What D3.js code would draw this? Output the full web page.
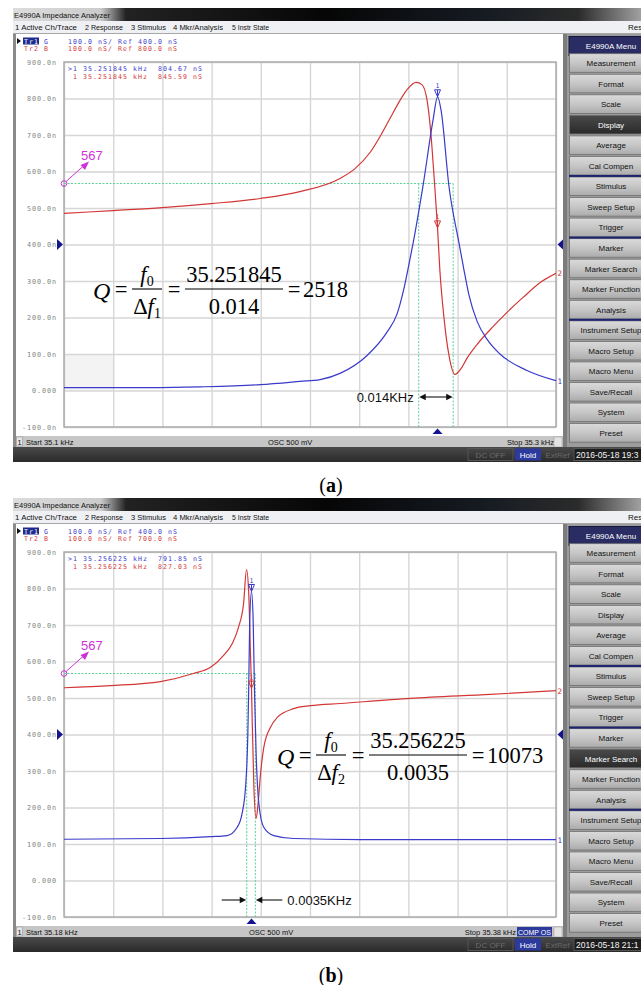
<!DOCTYPE html>
<html><head><meta charset="utf-8">
<script src="https://cdn.jsdelivr.net/npm/d3@7"></script>
<style>
html,body{margin:0;padding:0;background:#fff;}
svg{display:block;}
</style></head><body>
<svg id="fig" width="641" height="985"></svg>
<script>
// ---------- shared screen content ----------
const menuItems = ["Measurement","Format","Scale","Display","Average","Cal Compen","Stimulus","Sweep Setup","Trigger","Marker","Marker Search","Marker Function","Analysis","Instrument Setup","Macro Setup","Macro Menu","Save/Recall","System","Preset"];
const menuBreaks = [5, 8, 12];
const topMenu = ["1 Active Ch/Trace","2 Response","3 Stimulus","4 Mkr/Analysis","5 Instr State"];
const topMenuX = [15, 85, 131, 173, 232];
const topMenuW = [62, 38, 35, 50, 37];
const yTicks = [900,800,700,600,500,400,300,200,100,0,-100];
const yTickLabels = ["900.0n","800.0n","700.0n","600.0n","500.0n","400.0n","300.0n","200.0n","100.0n","0.000","-100.0n"];

// ---------- panel (a) : sweep 35.1 - 35.3 kHz ----------
const aSpan = [35.1, 35.3];
const aRef = [400, 800];                 // Tr1 G ref, Tr2 B ref (nS)
const aFreqG = [35.1, 35.135, 35.1553, 35.1797, 35.1959, 35.2041, 35.2122, 35.2232, 35.2313, 35.2354, 35.2382, 35.2402, 35.2419, 35.2459, 35.25, 35.251845, 35.2533, 35.2565, 35.2606, 35.2626, 35.2646, 35.2679, 35.272, 35.2772, 35.2882, 35.3];
const aG     = [8, 8, 10, 16, 25, 30, 47, 96, 160, 210, 280, 345, 403, 559, 740, 804.67, 767, 559, 403, 330, 262, 190, 140, 100, 55, 27];
const aFreqB = [35.1, 35.1199, 35.1398, 35.1598, 35.1797, 35.1959, 35.2122, 35.2183, 35.2244, 35.2285, 35.2325, 35.2366, 35.2398, 35.2431, 35.2455, 35.2476, 35.2492, 35.2504, 35.251845, 35.2528, 35.2545, 35.2565, 35.2589, 35.2614, 35.2638, 35.2679, 35.2744, 35.2801, 35.2866, 35.2943, 35.3];
const aB     = [885, 893, 901, 912, 926, 945, 981, 1008, 1052, 1096, 1145, 1195, 1227, 1244, 1238, 1195, 1099, 989, 845.59, 729, 597, 496, 444, 460, 488, 526, 575, 614, 655, 699, 721];
const aMarker = [35.251845, 804.67, 845.59];   // kHz, G nS, B nS
const aBand = [35.2512, 0.014];                // centre kHz, width kHz
const aLevel = 567;
const aQ = ["35.251845", "0.014", "2518"];
const aStatus = ["Start 35.1 kHz", "OSC 500 mV", "Stop 35.3 kHz", "2016-05-18 19:3"];

// ---------- panel (b) : sweep 35.18 - 35.38 kHz ----------
const bSpan = [35.18, 35.38];
const bRef = [400, 700];
const bFreqG = [35.18, 35.2192, 35.2396, 35.2463, 35.2504, 35.2524, 35.2538, 35.2547, 35.2551, 35.2555, 35.256225, 35.2569, 35.2574, 35.2581, 35.2592, 35.2612, 35.2653, 35.2733, 35.3005, 35.38];
const bG     = [113, 115, 120, 123, 146, 184, 256, 393, 530, 712, 791.85, 712, 530, 348, 211, 146, 123, 115, 112, 112];
const bFreqB = [35.18, 35.1989, 35.2192, 35.2326, 35.2396, 35.2448, 35.2484, 35.2509, 35.253, 35.2542, 35.2551, 35.2558, 35.256225, 35.2565, 35.2572, 35.2581, 35.2589, 35.2599, 35.2612, 35.2639, 35.2667, 35.2734, 35.2802, 35.2924, 35.3209, 35.3534, 35.38];
const bB     = [828, 834, 845, 867, 884, 916, 949, 993, 1059, 1152, 1086, 922, 827.03, 738, 555, 470, 511, 593, 664, 719, 747, 771, 779, 785, 799, 810, 820];
const bMarker = [35.256225, 791.85, 827.03];
const bBand = [35.25603, 0.0035];
const bLevel = 567;
const bQ = ["35.256225", "0.0035", "10073"];
const bStatus = ["Start 35.18 kHz", "OSC 500 mV", "Stop 35.38 kHz", "2016-05-18 21:1"];

// ---------- drawing ----------
const fig = d3.select("#fig");
const UI = "'Liberation Sans', Arial, sans-serif";
const MONO = "'DejaVu Sans Mono', monospace";
const SERIF = "'Liberation Serif', 'Times New Roman', serif";
const BLUE = "#3a3acb", RED = "#d43636", MAG = "#cc33d6", GREEN = "#5ccf9a";

const defs = fig.append("defs");
const tg = defs.append("linearGradient").attr("id","titleGrad");
[[0,"#dcdcdc"],[0.14,"#cbcbcb"],[0.18,"#222"],[0.5,"#060606"],[0.75,"#161b22"],[0.9,"#2b2b2b"],[1,"#a0a0a0"]]
  .forEach(([o,c]) => tg.append("stop").attr("offset",o).attr("stop-color",c));
const bt = defs.append("linearGradient").attr("id","btnGrad").attr("x1",0).attr("y1",0).attr("x2",0).attr("y2",1);
[[0,"#dadada"],[0.5,"#c6c6c6"],[1,"#ababab"]].forEach(([o,c]) => bt.append("stop").attr("offset",o).attr("stop-color",c));
const dk = defs.append("linearGradient").attr("id","darkGrad").attr("x1",0).attr("y1",0).attr("x2",0).attr("y2",1);
[[0,"#4a4a4a"],[1,"#2a2a2a"]].forEach(([o,c]) => dk.append("stop").attr("offset",o).attr("stop-color",c));

function txt(g, x, y, s, size, fill, font, anchor) {
  return g.append("text").attr("x", x).attr("y", y).text(s)
    .attr("font-size", size).attr("fill", fill || "#000")
    .attr("font-family", font || UI).attr("text-anchor", anchor || "start");
}
// instrument's small fixed-pitch text: 5 px per character
function mono(g, x, y, s, fill, anchor) {
  return txt(g, x, y, s, 6.6, fill, MONO, anchor).attr("letter-spacing", 1.03).attr("xml:space","preserve");
}

function drawPanel(oy, p) {
  const g = fig.append("g").attr("transform", `translate(0,${oy})`);
  const L = 64, R = 556, T = 62, Bt = 427;

  // window chrome
  g.append("rect").attr("x",13).attr("y",8).attr("width",628).attr("height",13).attr("fill","url(#titleGrad)");
  txt(g, 14, 18, "E4990A Impedance Analyzer", 8, "#111").attr("textLength",96).attr("lengthAdjust","spacingAndGlyphs");
  g.append("rect").attr("x",13).attr("y",21).attr("width",628).attr("height",13).attr("fill","#eef0f4");
  g.append("line").attr("x1",13).attr("x2",641).attr("y1",33.5).attr("y2",33.5).attr("stroke","#a8a8a8");
  topMenu.forEach((s,i) => txt(g, topMenuX[i], 30, s, 8, "#111").attr("textLength", topMenuW[i]).attr("lengthAdjust","spacingAndGlyphs"));
  txt(g, 628, 30, "Res", 8, "#111");
  g.append("rect").attr("x",16).attr("y",34).attr("width",548).attr("height",402).attr("fill","#fff");
  g.append("rect").attr("x",13).attr("y",34).attr("width",3).attr("height",414).attr("fill","#8a8a8a");

  // trace header
  g.append("path").attr("d","M17,38 L21,41 L17,44 Z").attr("fill","#111");
  g.append("rect").attr("x",23).attr("y",37.5).attr("width",16).attr("height",7).attr("fill","#1f2a8e");
  mono(g, 24, 43.5, "Tr1", "#fff");
  mono(g, 44, 43.5, "G", BLUE);
  mono(g, 68, 43.5, `100.0 nS/ Ref ${p.ref[0].toFixed(1)} nS`, BLUE);
  mono(g, 24, 51, "Tr2", RED);
  mono(g, 44, 51, "B", RED);
  mono(g, 68, 51, `100.0 nS/ Ref ${p.ref[1].toFixed(1)} nS`, RED);

  // scales
  const x = d3.scaleLinear().domain(p.span).range([L, R]);
  const yG = d3.scaleLinear().domain([-100, 900]).range([Bt, T]);
  const sh = p.ref[1] - p.ref[0];
  const yB = d3.scaleLinear().domain([-100 + sh, 900 + sh]).range([Bt, T]);

  if (p.shade) g.append("rect").attr("x",L).attr("y",yG(100)).attr("width",x(p.span[0] + (p.span[1]-p.span[0])/10) - L).attr("height",yG(0)-yG(100)).attr("fill","#f3f3f3");

  // grid via axes
  const xt = d3.range(11).map(i => p.span[0] + i * (p.span[1] - p.span[0]) / 10);
  const gx = g.append("g").attr("transform",`translate(0,${Bt})`)
    .call(d3.axisBottom(x).tickValues(xt).tickSize(-(Bt - T)).tickFormat(""));
  gx.select(".domain").remove();
  gx.selectAll(".tick line").attr("stroke","#d6d6d6").attr("stroke-width",1.4);
  const gy = g.append("g").attr("transform",`translate(${L},0)`)
    .call(d3.axisLeft(yG).tickValues(yTicks).tickSize(-(R - L)).tickPadding(7).tickFormat((d,i) => yTickLabels[i]));
  gy.select(".domain").remove();
  gy.selectAll(".tick line").attr("stroke","#d6d6d6").attr("stroke-width",1.4);
  gy.selectAll(".tick text").attr("font-family",MONO).attr("font-size",6.8).attr("letter-spacing",0.9).attr("fill","#858585");
  g.append("rect").attr("x",L).attr("y",T).attr("width",R-L).attr("height",Bt-T)
    .attr("fill","none").attr("stroke","#a9a9a9").attr("stroke-width",1.4);

  // marker readout
  const mf = p.marker[0].toFixed(6);
  mono(g, 68, 71, `>1 ${mf} kHz  ${p.marker[1].toFixed(2)} nS`, BLUE);
  mono(g, 68, 79, ` 1 ${mf} kHz  ${p.marker[2].toFixed(2)} nS`, RED);

  // half-power guides
  const yL = yG(p.level);
  const f1 = p.band[0] - p.band[1] / 2, f2 = p.band[0] + p.band[1] / 2;
  const gd = g.append("g").attr("stroke",GREEN).attr("stroke-width",1).attr("stroke-dasharray","2,1.5").attr("fill","none");
  gd.append("line").attr("x1",L).attr("x2",x(f2)).attr("y1",yL).attr("y2",yL);
  gd.append("line").attr("x1",x(f1)).attr("x2",x(f1)).attr("y1",yL).attr("y2",Bt);
  gd.append("line").attr("x1",x(f2)).attr("x2",x(f2)).attr("y1",yL).attr("y2",Bt);

  // traces
  const clipId = "clip" + oy;
  defs.append("clipPath").attr("id",clipId).append("rect").attr("x",L).attr("y",T).attr("width",R-L).attr("height",Bt-T);
  const lineB = d3.line().x(d => x(d[0])).y(d => yB(d[1])).curve(d3.curveMonotoneX);
  const lineG = d3.line().x(d => x(d[0])).y(d => yG(d[1])).curve(d3.curveMonotoneX);
  const tr = g.append("g").attr("clip-path",`url(#${clipId})`).attr("fill","none").attr("stroke-width",1.2);
  tr.append("path").attr("d", lineB(d3.zip(p.fB, p.B))).attr("stroke",RED);
  tr.append("path").attr("d", lineG(d3.zip(p.fG, p.G))).attr("stroke",BLUE);

  // markers
  const mx = x(p.marker[0]);
  [[yG(p.marker[1]), BLUE], [yB(p.marker[2]), RED]].forEach(([my, c]) => {
    g.append("path").attr("d",`M${mx-3},${my-7} L${mx+3},${my-7} L${mx},${my} Z M${mx},${my-7} L${mx},${my}`)
      .attr("fill","none").attr("stroke",c).attr("stroke-width",1);
    txt(g, mx, my - 8.5, "1", 6.5, c, MONO, "middle");
  });
  g.append("path").attr("d",`M${mx-5},${Bt+7} L${mx+5},${Bt+7} L${mx},${Bt+1.5} Z`).attr("fill","#14148f");

  // trace end labels and reference arrows
  txt(g, R + 1.5, yG(p.G[p.G.length-1]) + 3, "1", 7.5, BLUE, MONO);
  txt(g, R + 1.5, yB(p.B[p.B.length-1]) + 3, "2", 7.5, RED, MONO);
  const yr = yG(p.ref[0]);
  g.append("path").attr("d",`M${L-7},${yr-5.5} L${L-1},${yr} L${L-7},${yr+5.5} Z`).attr("fill","#14148f");
  g.append("path").attr("d",`M${R+7.5},${yr-5.5} L${R+1.5},${yr} L${R+7.5},${yr+5.5} Z`).attr("fill","#14148f");

  // level annotation
  g.append("circle").attr("cx",L).attr("cy",yL).attr("r",2.8).attr("fill","none").attr("stroke",MAG).attr("stroke-width",1);
  g.append("line").attr("x1",L+2).attr("y1",yL-2).attr("x2",L+20).attr("y2",yL-18).attr("stroke",MAG).attr("stroke-width",1);
  g.append("path").attr("d",`M${L+25},${yL-22} L${L+16.5},${yL-18.5} L${L+21},${yL-13.5} Z`).attr("fill",MAG);
  txt(g, L + 17, yL - 24, String(p.level), 13, MAG);

  // bandwidth arrows
  const ya = p.arrowY;
  const xa = x(f1), xb = x(f2);
  if (p.outward) {
    g.append("line").attr("x1",xa+5).attr("x2",xb-5).attr("y1",ya).attr("y2",ya).attr("stroke","#111").attr("stroke-width",1.1);
    g.append("path").attr("d",`M${xa+0.5},${ya} L${xa+7},${ya-3.2} L${xa+7},${ya+3.2} Z M${xb-0.5},${ya} L${xb-7},${ya-3.2} L${xb-7},${ya+3.2} Z`).attr("fill","#111");
    txt(g, xa - 5, ya + 4.5, `${p.q[1]}KHz`, 13, "#111", UI, "end");
  } else {
    g.append("line").attr("x1",xa-25).attr("x2",xa-5).attr("y1",ya).attr("y2",ya).attr("stroke","#111").attr("stroke-width",1.1);
    g.append("line").attr("x1",xb+5).attr("x2",xb+27).attr("y1",ya).attr("y2",ya).attr("stroke","#111").attr("stroke-width",1.1);
    g.append("path").attr("d",`M${xa-0.5},${ya} L${xa-7},${ya-3.2} L${xa-7},${ya+3.2} Z M${xb+0.5},${ya} L${xb+7},${ya-3.2} L${xb+7},${ya+3.2} Z`).attr("fill","#111");
    txt(g, xb + 32, ya + 4.5, `${p.q[1]}KHz`, 13, "#111", UI);
  }

  // Q formula
  const fq = g.append("g").attr("font-family",SERIF).attr("fill","#000");
  const [qx, by] = p.qPos;  // left of Q, fraction bar y
  const fs = 22.5;
  fq.append("text").attr("x",qx).attr("y",by+10).attr("font-size",24).attr("font-style","italic").text("Q");
  fq.append("text").attr("x",qx+28).attr("y",by+8).attr("font-size",fs).attr("text-anchor","middle").text("=");
  const c1 = qx + 54;
  fq.append("line").attr("x1",c1-15).attr("x2",c1+15).attr("y1",by).attr("y2",by).attr("stroke","#000").attr("stroke-width",1.1);
  const n1 = fq.append("text").attr("x",c1).attr("y",by-7).attr("font-size",fs).attr("text-anchor","middle");
  n1.append("tspan").attr("font-style","italic").text("f");
  n1.append("tspan").attr("font-size",14).attr("dy",4).text("0");
  const d1 = fq.append("text").attr("x",c1).attr("y",by+25).attr("font-size",fs).attr("text-anchor","middle");
  d1.append("tspan").text("Δ");
  d1.append("tspan").attr("font-style","italic").text("f");
  d1.append("tspan").attr("font-size",14).attr("dy",4).text(p.sub);
  fq.append("text").attr("x",c1+27).attr("y",by+8).attr("font-size",fs).attr("text-anchor","middle").text("=");
  const c2 = c1 + 87;
  fq.append("line").attr("x1",c2-49).attr("x2",c2+49).attr("y1",by).attr("y2",by).attr("stroke","#000").attr("stroke-width",1.1);
  fq.append("text").attr("x",c2).attr("y",by-7).attr("font-size",fs).attr("text-anchor","middle").text(p.q[0]);
  fq.append("text").attr("x",c2).attr("y",by+25).attr("font-size",fs).attr("text-anchor","middle").text(p.q[1]);
  fq.append("text").attr("x",c2+60).attr("y",by+8).attr("font-size",fs).attr("text-anchor","middle").text("=");
  fq.append("text").attr("x",c2+69).attr("y",by+8).attr("font-size",fs).text(p.q[2]);

  // right-hand soft-key menu
  g.append("rect").attr("x",563).attr("y",34).attr("width",78).attr("height",414).attr("fill","#9c9c9c");
  g.append("rect").attr("x",563).attr("y",34).attr("width",4).attr("height",414).attr("fill","#7c7c7c");
  g.append("rect").attr("x",569).attr("y",36.5).attr("width",75).attr("height",19).attr("fill","#2a2d63").attr("stroke","#15173a");
  txt(g, 611, 49, "E4990A Menu", 8, "#fff", UI, "middle");
  menuItems.forEach((s, i) => {
    const cy = 63 + i * 20.55;
    const on = s === p.active;
    g.append("rect").attr("x",569.5).attr("y",cy-9.3).attr("width",75).attr("height",18.6)
      .attr("fill", on ? "url(#darkGrad)" : "url(#btnGrad)").attr("stroke","#6f6f6f").attr("stroke-width",0.8);
    txt(g, 611, cy + 3, s, 8, on ? "#fff" : "#111", UI, "middle");
  });
  menuBreaks.forEach(i => {
    const yy = 63 + i * 20.55 + 10.2;
    g.append("rect").attr("x",569).attr("y",yy-1).attr("width",72).attr("height",2).attr("fill","#1e2470");
  });

  // status bars
  g.append("rect").attr("x",16).attr("y",436).attr("width",547).attr("height",11).attr("fill","#c6c6c6");
  g.append("rect").attr("x",16.5).attr("y",437).attr("width",6).attr("height",9).attr("fill","#e6e6e6").attr("stroke","#888").attr("stroke-width",0.5);
  txt(g, 19.5, 445, "1", 7.5, "#111", UI, "middle");
  txt(g, 26, 445, p.status[0], 7.5, "#111");
  txt(g, p.oscX, 445, p.status[1], 7.5, "#111");
  txt(g, p.stopX, 445, p.status[2], 7.5, "#111", UI, "end");
  if (p.comp) {
    g.append("rect").attr("x",517).attr("y",437).attr("width",35).attr("height",9.5).attr("fill","#2b3a9c");
    txt(g, 534.5, 445, "COMP OS", 7, "#fff", UI, "middle");
  }
  g.append("rect").attr("x",554).attr("y",437).attr("width",8).attr("height",10).attr("fill","#e4e4e4").attr("stroke","#999").attr("stroke-width",0.5);
  g.append("rect").attr("x",13).attr("y",447).attr("width",628).attr("height",15).attr("fill","url(#darkGrad)");
  g.append("rect").attr("x",468).attr("y",448.5).attr("width",45).attr("height",12).attr("fill","none").attr("stroke","#555");
  txt(g, 490.5, 458, "DC OFF", 8, "#6a6a6a", UI, "middle");
  g.append("rect").attr("x",515).attr("y",448.5).attr("width",26).attr("height",12).attr("fill","#2b3a9c");
  txt(g, 528, 458, "Hold", 8, "#fff", UI, "middle");
  txt(g, 557.5, 458, "ExtRef", 8, "#6a6a6a", UI, "middle");
  g.append("rect").attr("x",574).attr("y",448.5).attr("width",70).attr("height",12).attr("fill","#1d1d1d").attr("stroke","#555");
  txt(g, 576, 458, p.status[3], 8.5, "#f2f2f2");

  // caption
  const cap = g.append("text").attr("x",331).attr("y",492).attr("font-family",SERIF).attr("font-size",20).attr("text-anchor","middle");
  cap.append("tspan").text("(");
  cap.append("tspan").attr("font-weight","bold").text(p.label);
  cap.append("tspan").text(")");
}

drawPanel(0, {
  span: aSpan, ref: aRef, fG: aFreqG, G: aG, fB: aFreqB, B: aB, marker: aMarker,
  band: aBand, level: aLevel, q: aQ, sub: "1", status: aStatus, active: "Display",
  qPos: [93, 289], arrowY: 397, outward: true, oscX: 268, stopX: 554, comp: false, shade: true, label: "a"
});
drawPanel(490, {
  span: bSpan, ref: bRef, fG: bFreqG, G: bG, fB: bFreqB, B: bB, marker: bMarker,
  band: bBand, level: bLevel, q: bQ, sub: "2", status: bStatus, active: "Marker Search",
  qPos: [277, 265], arrowY: 410, outward: false, oscX: 249, stopX: 516, comp: true, shade: false, label: "b"
});
</script>
</body></html>
